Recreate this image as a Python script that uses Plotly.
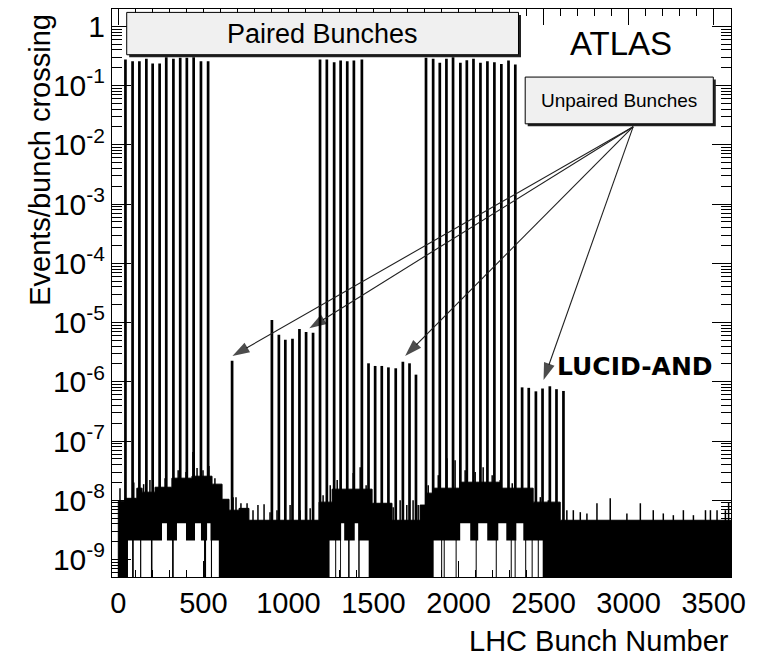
import plotly.graph_objects as go

# ---- paired (colliding) bunch trains: bunch number and events per crossing ----
paired_train1_bunch = [42, 84, 124, 165, 202, 243, 282, 324, 364, 403, 443, 486, 528]
paired_train1_rate = [0.275, 0.257, 0.257, 0.282, 0.235, 0.235, 0.30, 0.282, 0.294,
                      0.294, 0.30, 0.257, 0.257]
paired_train2_bunch = [1186, 1226, 1269, 1307, 1346, 1385, 1432]
paired_train2_rate = [0.275, 0.275, 0.247, 0.264, 0.257, 0.264, 0.275]
paired_train3_bunch = [1809, 1851, 1890, 1929, 1968, 2011, 2049, 2088, 2129, 2170,
                       2211, 2252, 2294, 2334]
paired_train3_rate = [0.294, 0.282, 0.242, 0.282, 0.30, 0.242, 0.267, 0.282, 0.242,
                      0.257, 0.247, 0.232, 0.264, 0.226]

# ---- unpaired bunches ----
unpaired_bunch = [669, 903, 944, 982, 1024, 1065, 1104, 1145,
                  1471, 1510, 1549, 1588, 1631, 1673, 1712, 1750,
                  2374, 2413, 2455, 2494, 2537, 2576, 2617]
unpaired_rate = [2.27e-6, 1.1e-5, 6.2e-6, 5.1e-6, 5.3e-6, 7.8e-6, 6.9e-6, 6.7e-6,
                 2.05e-6, 1.85e-6, 1.85e-6, 1.75e-6, 1.69e-6, 2.18e-6, 2.05e-6, 1.32e-6,
                 8.05e-7, 7.9e-7, 6.9e-7, 7.7e-7, 8.4e-7, 7.5e-7, 7.0e-7]

# ---- background band: upper edge (step starts; last entry closes the band) ----
bg_edge_bunch = [0, 39, 109, 140, 216, 315, 433, 551, 610, 651, 710, 768, 1180, 1257,
                 1492, 1609, 1774, 1809, 1851, 2010, 2245, 2439, 2598, 3602]
bg_edge_rate = [9.6e-9, 1.08e-8, 1.6e-8, 1.37e-8, 1.66e-8, 2.36e-8, 2.55e-8, 1.87e-8,
                1.04e-8, 6.8e-9, 7.3e-9, 4.6e-9, 9.3e-9, 1.54e-8, 8.9e-9, 4.6e-9,
                8.3e-9, 1.32e-8, 1.6e-8, 2.02e-8, 1.6e-8, 9.3e-9, 4.6e-9, 4.6e-9]

# single-bin background fluctuations above the band
bg_peak_bunch = [10, 91, 149, 186, 275, 352, 398, 439, 463, 498, 533, 568, 598,
                 675, 692, 721, 757, 792, 821, 857, 892, 933, 1010, 1069, 1128,
                 1204, 1246, 1287, 1346, 1381, 1422, 1457, 1510, 1551, 1586,
                 1616, 1657, 1696, 1733, 1763,
                 1822, 1881, 1932, 1980, 2039, 2098, 2145, 2198, 2245, 2316, 2363,
                 2410, 2481, 2528, 2569,
                 2637, 2675, 2716, 2755, 2814, 2892, 2990, 3069, 3145, 3204, 3263,
                 3322, 3381, 3452, 3481, 3520, 3569, 3588]
bg_peak_rate = [1.6e-8, 2.0e-8, 1.87e-8, 2.2e-8, 2.36e-8, 3.2e-8, 3.0e-8, 6.5e-8,
                3.5e-8, 3.2e-8, 3.8e-8, 2.36e-8, 1.6e-8,
                1.13e-8, 1.13e-8, 8.9e-9, 8.9e-9, 6.8e-9, 8.3e-9, 8.6e-9, 6.3e-9,
                6.8e-9, 8.3e-9, 6.8e-9, 7.3e-9,
                1.22e-8, 1.8e-8, 2.2e-8, 3.2e-8, 2.9e-8, 3.6e-8, 1.8e-8, 1.22e-8,
                1.0e-8, 8.3e-9,
                7.6e-9, 1.0e-8, 8.3e-9, 1.0e-8, 8.3e-9,
                1.8e-8, 2.65e-8, 5.1e-8, 4.75e-8, 3.2e-8, 3.0e-8, 3.6e-8, 2.65e-8,
                2.2e-8, 1.94e-8, 1.48e-8, 1.22e-8, 1.13e-8, 1.0e-8, 8.3e-9,
                6.8e-9, 6.8e-9, 6.3e-9, 6.0e-9, 8.9e-9, 1.08e-8, 6.0e-9, 8.9e-9,
                6.8e-9, 6.0e-9, 5.6e-9, 6.8e-9, 5.6e-9, 6.8e-9, 6.8e-9, 6.8e-9,
                6.8e-9, 9.3e-9]

# runs of bins sitting at the lowest non-zero level (start, end, level)
low_run_start = [57, 91, 135, 201, 326, 516, 551,
                 1242, 1281, 1310, 1360, 1419,
                 1854, 1904, 1919, 1989, 2107, 2225, 2313, 2336, 2398, 2436, 2472]
low_run_end = [81, 128, 192, 316, 504, 544, 591,
               1275, 1304, 1351, 1410, 1472,
               1898, 1913, 1983, 2101, 2219, 2307, 2330, 2392, 2430, 2466, 2495]
low_run_level = 2.1e-9
low_run2_start = [257, 345, 451, 522, 1310, 1390, 2010, 2116, 2234, 2340]
low_run2_end = [286, 398, 486, 542, 1328, 1410, 2069, 2169, 2281, 2381]
low_run2_level = 4.1e-9

y_tick_vals = [1e-9, 1e-8, 1e-7, 1e-6, 1e-5, 1e-4, 1e-3, 1e-2, 1e-1, 1]
y_tick_text = ["10<sup>-9</sup>", "10<sup>-8</sup>", "10<sup>-7</sup>", "10<sup>-6</sup>",
               "10<sup>-5</sup>", "10<sup>-4</sup>", "10<sup>-3</sup>", "10<sup>-2</sup>",
               "10<sup>-1</sup>", "1"]
x_tick_vals = [0, 500, 1000, 1500, 2000, 2500, 3000, 3500]

FLOOR = 1e-10  # below the visible range; polygons are clipped at the frame

# ---- figure geometry (pixels) ----
W, H = 772, 662
L, R, T, B = 112, 730.7, 9.3, 576.7


def px(x):
    return (x - L) / (R - L)


def py(y):
    return (B - y) / (B - T)


def band_polygon(edges, levels):
    xs, ys = [edges[0]], [FLOOR]
    for i in range(len(edges) - 1):
        xs += [edges[i], edges[i + 1]]
        ys += [levels[i], levels[i]]
    xs.append(edges[-1])
    ys.append(FLOOR)
    return xs, ys


def runs_polygons(starts, ends, level):
    xs, ys = [], []
    for a, b in zip(starts, ends):
        xs += [a, a, b, b, a, None]
        ys += [FLOOR, level, level, FLOOR, FLOOR, None]
    return xs, ys


def sticks(xv, yv):
    xs, ys = [], []
    for a, v in zip(xv, yv):
        xs += [a, a, None]
        ys += [FLOOR, v, None]
    return xs, ys


fig = go.Figure()

bx, by = band_polygon(bg_edge_bunch, bg_edge_rate)
fig.add_trace(go.Scatter(x=bx, y=by, mode="lines", fill="toself", fillcolor="black",
                         line=dict(color="black", width=1), hoverinfo="skip"))

sx, sy = sticks(bg_peak_bunch, bg_peak_rate)
fig.add_trace(go.Scatter(x=sx, y=sy, mode="lines", line=dict(color="black", width=1.5),
                         hoverinfo="skip"))

for xb, yr in [(paired_train1_bunch, paired_train1_rate),
               (paired_train2_bunch, paired_train2_rate),
               (paired_train3_bunch, paired_train3_rate),
               (unpaired_bunch, unpaired_rate)]:
    sx, sy = sticks(xb, yr)
    fig.add_trace(go.Scatter(x=sx, y=sy, mode="lines",
                             line=dict(color="black", width=2.7), hoverinfo="skip"))

for starts, ends, lvl in [(low_run_start, low_run_end, low_run_level),
                          (low_run2_start, low_run2_end, low_run2_level)]:
    hx, hy = runs_polygons(starts, ends, lvl)
    fig.add_trace(go.Scatter(x=hx, y=hy, mode="lines", fill="toself", fillcolor="white",
                             line=dict(width=0, color="white"), hoverinfo="skip"))

# arrows from the "Unpaired Bunches" box to the unpaired bunch groups
arrow_tail = (3027, 10 ** -1.694)
arrow_tips = [(671, 10 ** -5.565), (1123, 10 ** -5.096), (1686, 10 ** -5.565),
              (2500, 10 ** -5.970)]
for tx, ty in arrow_tips:
    fig.add_trace(go.Scatter(
        x=[arrow_tail[0], tx], y=[arrow_tail[1], ty], mode="lines+markers",
        line=dict(color="#202020", width=1.1),
        marker=dict(symbol=["circle", "arrow"], size=[0, 18], angleref="previous",
                    color="black", line=dict(width=0)),
        hoverinfo="skip"))

FONT = "Liberation Sans"
minor_y = [m * 10.0 ** k for k in range(-10, 1) for m in range(2, 10)]

fig.update_layout(
    width=W, height=H,
    margin=dict(l=L, r=W - R, t=T, b=H - B, autoexpand=False),
    paper_bgcolor="white", plot_bgcolor="white",
    showlegend=False,
    font=dict(family=FONT, color="black"),
    xaxis=dict(
        range=[-37, 3602], tickmode="array", tickvals=x_tick_vals,
        ticks="inside", ticklen=16, tickwidth=1, tickcolor="black",
        minor=dict(ticks="inside", ticklen=7, tickwidth=1, tickcolor="black",
                   dtick=100, tick0=0, showgrid=False),
        showline=True, linecolor="black", linewidth=1, mirror="allticks",
        showgrid=False, zeroline=False,
        tickfont=dict(family=FONT, size=29, color="black"),
    ),
    yaxis=dict(
        type="log", range=[-9.295, 0.292], tickmode="array",
        tickvals=y_tick_vals, ticktext=y_tick_text,
        ticks="inside", ticklen=19, tickwidth=1, tickcolor="black",
        minor=dict(ticks="inside", ticklen=10, tickwidth=1, tickcolor="black",
                   tickmode="array", tickvals=minor_y, showgrid=False),
        showline=True, linecolor="black", linewidth=1, mirror="allticks",
        showgrid=False, zeroline=False,
        tickfont=dict(family=FONT, size=30, color="black"),
    ),
)


# labelled boxes with drop shadows
def shadow_box(x0, y0, x1, y1, off=2.5):
    fig.add_shape(type="rect", xref="paper", yref="paper",
                  x0=px(x0 + off), x1=px(x1 + off), y0=py(y0 + off), y1=py(y1 + off),
                  fillcolor="#222222", line=dict(width=0), layer="above")
    fig.add_shape(type="rect", xref="paper", yref="paper",
                  x0=px(x0), x1=px(x1), y0=py(y0), y1=py(y1),
                  fillcolor="#f0f0f0", line=dict(color="black", width=1), layer="above")


shadow_box(126.7, 12.7, 518.3, 55)
shadow_box(525, 77.3, 713, 124)

texts = [
    ("Paired Bunches", 322.5, 34.5, 27, FONT),
    ("Unpaired Bunches", 619, 101, 19, FONT),
    ("ATLAS", 620.5, 44, 33, FONT),
    ("<b>LUCID-AND</b>", 635, 366, 25, "DejaVu Sans"),
]
for t, x, y, s, f in texts:
    fig.add_annotation(text=t, xref="paper", yref="paper", x=px(x), y=py(y),
                       xanchor="center", yanchor="middle", showarrow=False,
                       font=dict(family=f, size=s, color="black"))

# axis titles
fig.add_annotation(text="Events/bunch crossing", xref="paper", yref="paper",
                   x=px(40), y=py(160), textangle=-90, showarrow=False,
                   xanchor="center", yanchor="middle",
                   font=dict(family=FONT, size=29, color="black"))
fig.add_annotation(text="LHC Bunch Number", xref="paper", yref="paper",
                   x=px(731), y=py(641), showarrow=False,
                   xanchor="right", yanchor="middle",
                   font=dict(family=FONT, size=29, color="black"))

fig.write_html("out.html")
